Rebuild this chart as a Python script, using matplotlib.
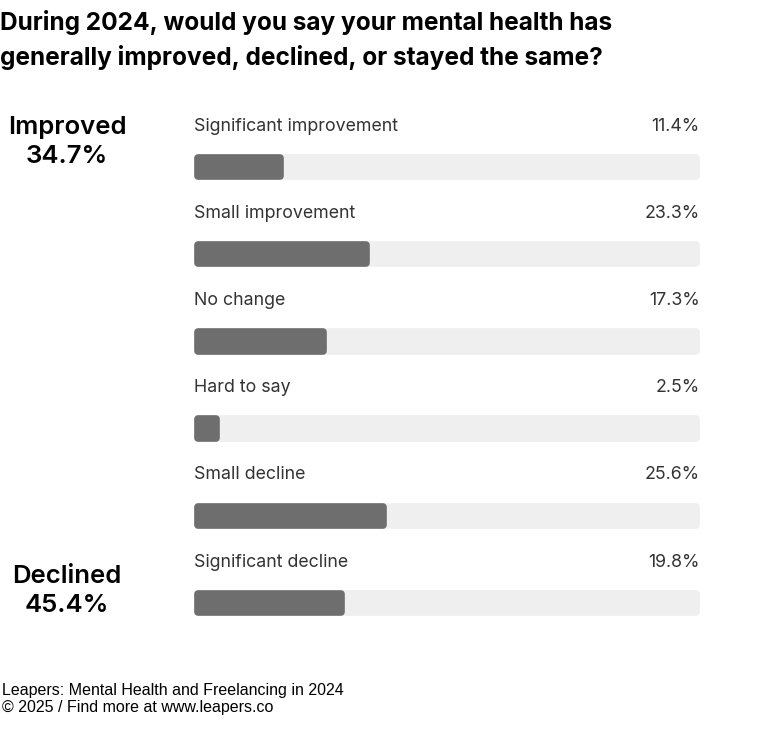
import matplotlib.pyplot as plt

categories = ["Significant improvement", "Small improvement", "No change",
              "Hard to say", "Small decline", "Significant decline"]
values = [11.4, 23.3, 17.3, 2.5, 25.6, 19.8]
groups = ["Improved", "Declined"]
group_values = [34.7, 45.4]
title = "During 2024, would you say your mental health has\ngenerally improved, declined, or stayed the same?"
footer = "Leapers: Mental Health and Freelancing in 2024\n\u00a9 2025 / Find more at www.leapers.co"

W, H = 783, 732
SCALE_MAX = 69
FILL = "#6e6e6e"
TRACK = "#efefef"


def fx(px):
    return px / W


def fy(py):
    return 1 - py / H


fig = plt.figure(figsize=(W / 100, H / 100), dpi=100)
fig.patch.set_facecolor("white")

# axes spans pixel rows 100..650, row i centred at 167 + 87.2*i
top_px, bot_px = 100, 650
ax = fig.add_axes([fx(198), fy(bot_px), fx(696) - fx(198), (bot_px - top_px) / H])
ax.set_xlim(0, SCALE_MAX)
ax.set_ylim((bot_px - 167) / 87.2, (top_px - 167) / 87.2)
ax.axis("off")

rows = list(range(len(categories)))
lw = 5.5  # thick round-joined edge gives the rounded corners
ax.barh(rows, [SCALE_MAX] * len(rows), height=0.21, color=TRACK,
        edgecolor=TRACK, linewidth=lw, joinstyle="round", clip_on=False)
ax.barh(rows, values, height=0.21, color=FILL,
        edgecolor=FILL, linewidth=lw, joinstyle="round", clip_on=False)

for i, (cat, v) in enumerate(zip(categories, values)):
    ax.text(-0.5, i - 0.47, cat, ha="left", va="center",
            fontsize=12.8, color="#333333", family="Inter")
    ax.text(SCALE_MAX + 0.5, i - 0.47, f"{v}%", ha="right", va="center",
            fontsize=12.8, color="#333333", family="Inter")

fig.text(fx(0), fy(40), title, ha="left", va="center", fontsize=17.6,
         fontweight="bold", family="Inter", color="black", linespacing=1.5)

for (g, gv), ypx in zip(zip(groups, group_values), [142, 591]):
    fig.text(fx(67), fy(ypx), f"{g}\n{gv}%", ha="center", va="center",
             fontsize=18.5, fontweight="semibold", family="Inter",
             color="black", linespacing=1.3)

fig.text(fx(2), fy(699), footer, ha="left", va="center", fontsize=11.5,
         family="Liberation Sans", color="black", linespacing=1.15)

fig.savefig("out.png", dpi=100)
